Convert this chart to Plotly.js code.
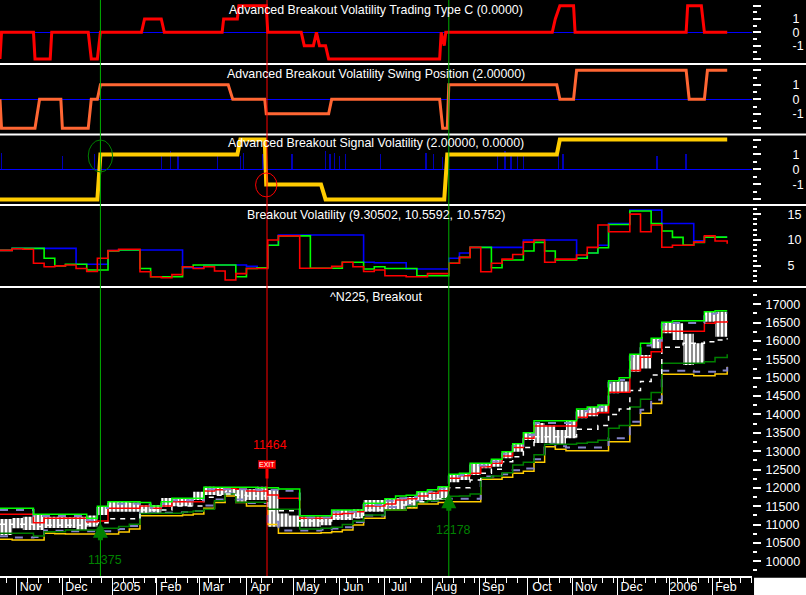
<!DOCTYPE html>
<html><head><meta charset="utf-8">
<script src="https://cdn.plot.ly/plotly-3.0.1.min.js"></script>
<style>html,body{margin:0;padding:0;background:#000;}#chart{width:806px;height:595px;}</style>
</head><body><div id="chart"></div>
<script>
// ---------- weekly dates (price / volatility panels) ----------
const dates = ["2004-10-21","2004-10-29","2004-11-05","2004-11-12","2004-11-19","2004-11-26","2004-12-03","2004-12-10","2004-12-17","2004-12-24","2004-12-31",
"2005-01-07","2005-01-14","2005-01-21","2005-01-28","2005-02-04","2005-02-11","2005-02-18","2005-02-25","2005-03-04","2005-03-11","2005-03-18","2005-03-25",
"2005-04-01","2005-04-08","2005-04-15","2005-04-22","2005-04-29","2005-05-06","2005-05-13","2005-05-20","2005-05-27","2005-06-03","2005-06-10","2005-06-17","2005-06-24",
"2005-07-01","2005-07-08","2005-07-15","2005-07-22","2005-07-29","2005-08-05","2005-08-12","2005-08-19","2005-08-26","2005-09-02","2005-09-09","2005-09-16","2005-09-23","2005-09-30",
"2005-10-07","2005-10-14","2005-10-21","2005-10-28","2005-11-04","2005-11-11","2005-11-18","2005-11-25","2005-12-02","2005-12-09","2005-12-16","2005-12-23","2005-12-30",
"2006-01-06","2006-01-13","2006-01-20","2006-01-27","2006-02-03","2006-02-11"];

// ^N225 weekly high / low
const priceHigh = [11150,11180,11215,11261,11215,11215,11200,11215,11250,11500,11623,11623,11600,11530,11530,11724,11724,11724,11895,12032,12000,11990,11942,11960,12032,
11942,11300,11250,11215,11215,11215,11397,11397,11420,11669,11669,11700,11720,11750,11895,11895,12032,12369,12400,12669,12669,12778,12985,13200,13500,13767,13700,13575,13829,
14121,14200,14257,14892,14900,15619,15619,16074,16510,16482,16200,15938,16798,16798,16700];
const priceLow = [10716,10900,10850,10850,10907,10907,10907,10852,10942,11261,11351,11351,11351,11300,11300,11479,11500,11500,11669,11805,11805,11805,11623,11669,11669,
10942,10942,10942,10942,10942,10980,11125,11125,11170,11351,11351,11397,11420,11450,11669,11669,11669,12150,12214,12350,12533,12576,12805,12985,13303,13222,13222,13167,13350,
13894,13950,14075,14576,14600,15164,15250,15801,16210,16028,15346,15400,16526,16117,16100];

// Breakout channel lines
const upperBand = [11443,11443,11443,11280,11280,11280,11280,11280,11170,11500,11623,11623,11623,11600,11506,11623,11715,11715,11715,12015,12015,12015,12015,12015,12004,
12000,11969,11969,11242,11242,11242,11397,11397,11397,11579,11579,11705,11778,11800,11895,11950,12032,12369,12400,12669,12669,12778,12985,13200,13500,13829,13829,13829,13829,
14148,14200,14257,14919,15000,15638,15938,16074,16510,16553,16553,16553,16798,16826,16826];
const upperLav = [11395,11395,11395,11230,11230,11230,11230,11230,11120,11450,11570,11570,11570,11550,11460,11570,11660,11660,11660,11960,11960,11960,11960,11960,11950,
11950,11920,11920,11190,11190,11190,11350,11350,11350,11530,11530,11650,11720,11750,11840,11900,11980,12310,12350,12610,12610,12720,12930,13140,13440,13770,13770,13770,13770,
14090,14140,14200,14860,14940,15580,15880,16010,16450,16490,16490,16490,16740,16760,16760];
const redLine = [11280,11280,11280,11050,11170,11170,11170,11170,11078,11100,11443,11443,11443,11506,11443,11506,11623,11623,11623,11914,11950,11987,11960,11914,11914,
11805,11715,11715,11170,11170,11170,11280,11300,11351,11506,11506,11560,11669,11700,11778,11850,11923,12260,12330,12396,12576,12669,12868,13100,13350,13685,13685,13685,13685,
13922,14012,14048,14603,14603,15200,15556,15709,16265,16265,16265,16265,16482,16520,16545];
const midLine = [11007,11007,11007,10950,10980,10980,10980,10980,11000,11050,11160,11160,11160,11397,11397,11397,11506,11506,11506,11743,11800,11830,11800,11780,11778,
11378,11378,11378,11097,11097,11097,11188,11188,11188,11397,11397,11533,11533,11623,11623,11700,11700,12004,12004,12214,12396,12505,12713,12849,13100,13394,13394,13394,13394,
13595,13595,13700,14000,14150,14650,14900,15074,15829,15829,15938,15938,15980,16030,16074];
const darkGreen = [10762,10762,10762,10689,10806,10806,10852,10852,10852,10898,10898,10950,11007,11300,11307,11307,11307,11340,11370,11416,11650,11830,11606,11606,11606,
11416,11416,11416,10879,10879,10900,10925,11000,11097,11261,11261,11397,11397,11500,11606,11650,11700,11770,11780,11833,12276,12323,12413,12623,12700,12900,13186,13186,13186,
13213,13240,13300,13622,13700,14200,14412,14600,15393,15393,15393,15393,15437,15550,15638];
const lowerLav = [10680,10650,10650,10660,10840,10830,10820,10820,10820,10820,10820,10880,10960,11320,11320,11320,11320,11340,11370,11520,11680,11850,11680,11590,11590,
11080,10840,10840,10840,10840,10860,10890,10930,11070,11250,11250,11480,11480,11530,11640,11640,11680,11700,11700,11700,12310,12310,12370,12480,12530,12780,13200,13130,13100,
13100,13100,13100,13350,13350,13800,14130,14400,15190,15190,15190,15160,15160,15200,15390];
const lowerBand = [10600,10580,10580,10580,10762,10750,10743,10743,10743,10743,10743,10800,10879,11242,11242,11242,11242,11260,11288,11443,11600,11778,11600,11506,11506,
11000,10762,10762,10762,10762,10780,10806,10850,10988,11170,11170,11397,11397,11450,11560,11560,11600,11623,11623,11623,12233,12233,12287,12396,12450,12700,13121,13050,13012,
13012,13012,13012,13258,13258,13700,14031,14300,15093,15093,15093,15055,15055,15100,15300];

// Breakout Volatility
const volBlue = [8.0,8.39,8.39,8.39,8.39,8.39,8.39,5.3,5.3,5.3,7.94,8.07,8.07,8.07,8.07,8.07,8.07,4.64,4.64,5.16,5.16,5.16,5.16,4.9,4.64,
9.0,10.97,10.97,10.97,10.97,10.97,10.97,10.97,10.97,5.69,5.6,5.6,5.6,4.39,4.39,4.39,4.39,6.46,7.5,8.58,8.58,8.58,8.58,8.58,10.0,10.0,10.0,10.0,10.0,
6.46,7.5,9.0,13.2,13.2,15.77,15.77,15.77,13.2,13.2,13.2,9.87,10.58,10.58,10.58];
const volGreen = [8.0,8.39,8.39,8.39,6.46,5.0,5.3,5.3,4.2,4.2,7.9,8.07,8.07,4.5,2.9,2.9,2.9,4.84,5.16,5.16,5.16,5.16,2.9,4.5,4.64,
9.0,10.8,10.8,10.8,4.53,4.53,4.53,5.69,5.69,4.39,4.84,4.5,4.5,4.5,3.1,3.1,3.1,5.5,6.65,8.58,8.58,4.64,6.13,6.13,7.87,9.55,7.87,6.13,6.13,
6.46,7.5,8.5,13.0,13.0,15.6,15.6,13.2,11.74,10.5,9.03,9.55,10.56,10.56,10.56];
const volRed = [8.0,8.3,8.2,5.5,4.84,5.0,5.16,4.5,3.9,6.46,7.94,8.2,8.2,3.87,2.9,2.7,3.3,4.84,4.5,4.84,4.0,2.26,3.5,4.5,4.5,
10.0,10.8,10.8,4.53,4.53,4.53,4.9,5.69,4.84,3.9,4.2,3.1,3.1,2.9,2.9,3.5,3.5,5.5,6.65,8.58,3.87,5.5,6.3,7.2,9.6,10.0,5.69,6.3,6.3,
7.1,8.58,12.9,11.6,11.6,15.0,11.6,12.9,8.6,9.0,9.0,9.6,10.8,9.8,9.3];

// Advanced Breakout Volatility Trading Type C
const typeCDates = ["2004-10-21","2004-10-22","2004-11-12","2004-11-13","2004-11-23","2004-11-24","2004-12-18","2004-12-20","2004-12-24","2004-12-26",
"2005-01-22","2005-01-24","2005-02-04","2005-02-06","2005-03-16","2005-03-17","2005-03-26","2005-03-27","2005-04-14","2005-04-15","2005-05-07","2005-05-09",
"2005-05-15","2005-05-17","2005-05-19","2005-05-23","2005-05-25","2005-08-06","2005-08-07","2005-08-09","2005-08-10","2005-10-19","2005-10-21","2005-10-24",
"2005-11-02","2005-11-03","2006-01-15","2006-01-16","2006-01-25","2006-01-26","2006-01-27","2006-02-11"];
const typeCVals = [-2,0,0,-2,-2,0,0,-2,-2,0,0,1,1,0,0,1,1,2,2,0,0,-1,-1,0,-1,-1,-2,-2,0,-1,0,0,1,2,2,0,0,2,2,1,0,0];

// Advanced Breakout Volatility Swing Position
const swingDates = ["2004-10-21","2004-10-22","2004-11-13","2004-11-16","2004-11-30","2004-12-01","2004-12-18","2004-12-20","2004-12-24","2004-12-26",
"2005-03-20","2005-03-23","2005-04-13","2005-04-14","2005-05-25","2005-05-27","2005-08-06","2005-08-08","2005-08-11","2005-08-12","2005-10-22","2005-10-24",
"2005-11-02","2005-11-04","2006-01-15","2006-01-17","2006-01-27","2006-01-29","2006-02-11"];
const swingVals = [0,-2,-2,0,0,-2,-2,0,0,1,1,0,0,-1,-1,0,0,-2,-2,1,1,0,0,2,2,0,0,2,2];

// Advanced Breakout Signal Volatility
const signalDates = ["2004-10-21","2004-12-24","2004-12-26","2005-03-26","2005-03-28","2005-04-13","2005-04-14","2005-05-20","2005-05-23","2005-08-09","2005-08-11","2005-10-22","2005-10-24","2006-02-11"];
const signalVals = [-2,-2,1,1,2,2,-1,-1,-2,-2,1,1,2,2];
const spikeDates = ["2004-10-22","2004-12-01","2004-12-22","2005-02-04","2005-02-10","2005-02-15","2005-03-13","2005-03-28","2005-03-30","2005-04-12","2005-05-01",
"2005-05-23","2005-05-26","2005-05-29","2005-06-01","2005-06-05","2005-06-28","2005-07-28","2005-08-02","2005-08-08","2005-09-13","2005-09-18","2005-09-22",
"2005-09-26","2005-09-30","2005-10-23","2005-10-26","2005-12-27","2006-01-15"];
const spikeVals = [1.1,0.9,1.0,1.0,1.2,1.0,1.0,0.9,1.1,1.0,1.0,1.2,1.0,1.1,0.9,1.0,1.0,1.1,1.0,0.8,1.1,1.2,1.0,1.1,0.9,1.0,1.0,0.9,1.0];

// trades
const entryDates = ["2004-12-26","2005-08-12"];
const entryPrices = [11375,12178];
const exitDates = ["2005-04-14 12:00"];
const exitPrices = [11464];

// axis ticks
const monthTicks = ["2004-11-01","2004-12-01","2005-01-03","2005-02-01","2005-03-01","2005-04-01","2005-05-02","2005-06-01","2005-07-01","2005-08-01","2005-09-01","2005-10-03","2005-11-01","2005-12-01","2006-01-04","2006-02-01"];
const monthLabels = ["Nov","Dec","2005","Feb","Mar","Apr","May","Jun","Jul","Aug","Sep","Oct","Nov","Dec","2006","Feb"];
const sigTicks = [-2,-1,0,1,2];
const sigTickText = ["","-1","0","1",""];

const FONT = "Liberation Sans, Arial, sans-serif";
const W = "#ffffff";

function step(x, y, ax, color, width, dash) {
  return {type:"scatter", mode:"lines", x:x, y:y, yaxis:ax, xaxis:"x", hoverinfo:"skip",
    line:{color:color, width:width, shape:"hv", dash:dash||"solid"}};
}
function lin(x, y, ax, color, width) {
  return {type:"scatter", mode:"lines", x:x, y:y, yaxis:ax, xaxis:"x", hoverinfo:"skip",
    line:{color:color, width:width, shape:"linear"}};
}

const traces = [
  lin(typeCDates, typeCVals, "y", "#ff0000", 3),
  lin(swingDates, swingVals, "y2", "#ff6633", 3),
  {type:"bar", x:spikeDates, y:spikeVals, yaxis:"y3", xaxis:"x", width:1.0*86400000,
   marker:{color:"rgba(0,0,255,0.7)", line:{width:0}}, hoverinfo:"skip"},
  lin(signalDates, signalVals, "y3", "#ffcc00", 4),
  step(dates, volBlue, "y4", "#0000ff", 1.6),
  step(dates, volGreen, "y4", "#00ff00", 1.6),
  step(dates, volRed, "y4", "#ff0000", 1.6),
  {type:"scatter", mode:"lines", x:dates, y:priceHigh, yaxis:"y5", xaxis:"x", hoverinfo:"skip",
   line:{width:0, shape:"hv", color:"#ffffff"}},
  {type:"scatter", mode:"lines", x:dates, y:priceLow, yaxis:"y5", xaxis:"x", hoverinfo:"skip",
   line:{width:0, shape:"hv", color:"#ffffff"}, fill:"tonexty", fillcolor:"rgba(0,0,0,0)",
   fillpattern:{shape:"|", fgcolor:"#ffffff", bgcolor:"rgba(150,150,150,0.45)", size:4, solidity:0.7}},
  step(dates, lowerBand, "y5", "#ffcc00", 1.5),
  step(dates, lowerLav, "y5", "#8484c8", 2, "8px,8px"),
  step(dates, darkGreen, "y5", "#008000", 1.5),
  step(dates, midLine, "y5", W, 1.5, "5px,5px"),
  step(dates, redLine, "y5", "#ff0000", 1.5),
  step(dates, upperLav, "y5", "#8484c8", 2, "8px,8px"),
  step(dates, upperBand, "y5", "#00ff00", 1.5)
];

const tickFont = {family:FONT, size:12.5, color:W};
function yAxis(domain, range, extra) {
  return Object.assign({domain:domain, range:range, side:"right", anchor:"x", showgrid:false,
    zeroline:false, showline:false, ticks:"outside", ticklen:8, tickwidth:2, tickcolor:W,
    tickfont:tickFont, fixedrange:true}, extra);
}
const sigExtra = {tickmode:"array", tickvals:sigTicks, ticktext:sigTickText, zeroline:true,
  zerolinecolor:"#0000ff", zerolinewidth:1, ticklabelstandoff:29,
  minor:{ticks:"outside", tick0:-2, dtick:0.5, ticklen:4, tickwidth:2, tickcolor:W}};

const layout = {
  width:806, height:595, showlegend:false, bargap:0,
  paper_bgcolor:"#000", plot_bgcolor:"#000",
  margin:{l:0, r:54, t:0, b:19, pad:0},
  font:{family:FONT, color:W, size:12.5},
  xaxis:{type:"date", domain:[0,1], range:["2004-10-21","2006-02-27 07:00"], anchor:"y5",
    showgrid:false, zeroline:false, showline:true, linecolor:W, linewidth:2,
    ticks:"outside", tickmode:"array", tickvals:monthTicks, ticktext:monthLabels,
    ticklen:18, tickwidth:1, tickcolor:W, ticklabelstandoff:-20, ticklabelshift:14,
    tickfont:tickFont, fixedrange:true,
    minor:{ticks:"outside", tick0:"2004-10-25", dtick:604800000, ticklen:5, tickwidth:1, tickcolor:W}},
  yaxis: yAxis([0.8889,1], [-2.38,2.43], sigExtra),
  yaxis2: yAxis([0.7674,0.8872], [-2.39,2.37], sigExtra),
  yaxis3: yAxis([0.6441,0.7656], [-2.37,2.3], sigExtra),
  yaxis4: yAxis([0.5017,0.6424], [0.91,16.58], {tickmode:"array", tickvals:[5,10,15], ticklabelstandoff:24,
    minor:{ticks:"outside", tick0:0, dtick:1, ticklen:4, tickwidth:2, tickcolor:W}}),
  yaxis5: yAxis([0,0.5], [9599,17444], {tick0:0, dtick:500, tickformat:"d", ticklabelstandoff:2,
    minor:{ticks:"outside", tick0:0, dtick:250, ticklen:4, tickwidth:2, tickcolor:W}}),
  shapes:[
    {type:"line", xref:"paper", yref:"paper", x0:0, x1:1.1, y0:0.8889, y1:0.8889, line:{color:W, width:2}},
    {type:"line", xref:"paper", yref:"paper", x0:0, x1:1.1, y0:0.7665, y1:0.7665, line:{color:W, width:2}},
    {type:"line", xref:"paper", yref:"paper", x0:0, x1:1.1, y0:0.6441, y1:0.6441, line:{color:W, width:2}},
    {type:"line", xref:"paper", yref:"paper", x0:0, x1:1.1, y0:0.5017, y1:0.5017, line:{color:W, width:2}},
    {type:"line", xref:"x", yref:"paper", x0:entryDates[0], x1:entryDates[0], y0:0, y1:1, line:{color:"#00b000", width:1}},
    {type:"line", xref:"x", yref:"paper", x0:exitDates[0], x1:exitDates[0], y0:0, y1:1, line:{color:"#ff0000", width:1}},
    {type:"line", xref:"x", yref:"paper", x0:entryDates[1], x1:entryDates[1], y0:0, y1:1, line:{color:"#00b000", width:1}},
    {type:"circle", xref:"x", yref:"y3", x0:"2004-12-18", x1:"2005-01-03", y0:-0.17, y1:1.97, line:{color:"#008000", width:1}},
    {type:"circle", xref:"x", yref:"y3", x0:"2005-04-07", x1:"2005-04-21", y0:-1.83, y1:-0.23, line:{color:"#ff0000", width:1}},
    {type:"rect", xref:"paper", yref:"paper", x0:1.0027, x1:1.1, y0:-0.1, y1:-0.003, fillcolor:W, line:{width:0}}
  ],
  annotations:[
    {xref:"paper", yref:"paper", x:0.5, y:0.9818, text:"Advanced Breakout Volatility Trading Type C (0.0000)", showarrow:false, xanchor:"center", yanchor:"middle", font:{family:FONT, size:12.4, color:W}},
    {xref:"paper", yref:"paper", x:0.5, y:0.8715, text:"Advanced Breakout Volatility Swing Position (2.00000)", showarrow:false, xanchor:"center", yanchor:"middle", font:{family:FONT, size:12.4, color:W}},
    {xref:"paper", yref:"paper", x:0.5, y:0.7509, text:"Advanced Breakout Signal Volatility (2.00000, 0.0000)", showarrow:false, xanchor:"center", yanchor:"middle", font:{family:FONT, size:12.4, color:W}},
    {xref:"paper", yref:"paper", x:0.5, y:0.6267, text:"Breakout Volatility (9.30502, 10.5592, 10.5752)", showarrow:false, xanchor:"center", yanchor:"middle", font:{family:FONT, size:12.4, color:W}},
    {xref:"paper", yref:"paper", x:0.5, y:0.4844, text:"^N225, Breakout", showarrow:false, xanchor:"center", yanchor:"middle", font:{family:FONT, size:12.4, color:W}}
  ]
};

entryDates.forEach(function(d, i) {
  layout.annotations.push({xref:"x", yref:"y5", x:d, y:entryPrices[i], yshift:-12, text:"", showarrow:true,
    arrowhead:2, arrowsize:0.6, arrowwidth:5, arrowcolor:"#008000", ax:0, ay:19, standoff:0});
  layout.annotations.push({xref:"x", yref:"y5", x:d, y:entryPrices[i], yshift:-49, xshift:5, text:String(entryPrices[i]),
    showarrow:false, font:{family:FONT, size:12.4, color:"#008000"}});
});
exitDates.forEach(function(d, i) {
  layout.annotations.push({xref:"x", yref:"y5", x:d, y:exitPrices[i], yshift:29, text:"EXIT", showarrow:true,
    arrowhead:0, arrowwidth:3, arrowcolor:"#ff0000", ax:0, ay:-14, standoff:0,
    bgcolor:"#ff0000", bordercolor:"#a00000", borderwidth:1, borderpad:0,
    font:{family:FONT, size:7, color:"#ffffff"}});
  layout.annotations.push({xref:"x", yref:"y5", x:d, y:exitPrices[i], yshift:63, xshift:3, text:String(exitPrices[i]),
    showarrow:false, font:{family:FONT, size:12.4, color:"#ff0000"}});
});

Plotly.newPlot("chart", traces, layout, {displayModeBar:false, staticPlot:true});
</script></body></html>
